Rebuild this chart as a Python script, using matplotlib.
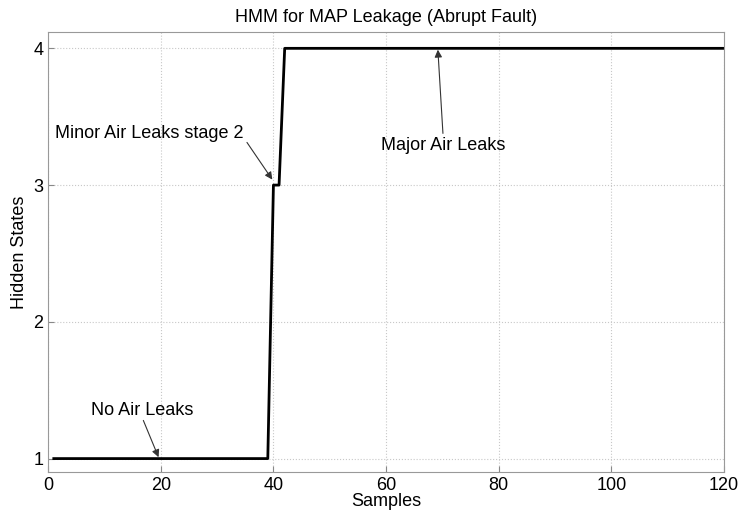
import numpy as np
import matplotlib
matplotlib.use('Agg')
import matplotlib.pyplot as plt

# Hidden state sequence
samples = np.arange(1, 121)
state_no_leak_end = 39     # last sample in state 1
state_minor_end = 41       # last sample in state 3
states = np.where(samples <= state_no_leak_end, 1,
                  np.where(samples <= state_minor_end, 3, 4))

x_ticks = [0, 20, 40, 60, 80, 100, 120]
y_ticks = [1, 2, 3, 4]

# annotation labels: (text, text pos, arrow tail, arrow head)
labels = ['No Air Leaks', 'Minor Air Leaks stage 2', 'Major Air Leaks']
label_pos = [(7.6, 1.352), (1.2, 3.378), (59.1, 3.29)]
arrow_tail = [(16.9, 1.279), (35.3, 3.312), (70.1, 3.378)]
arrow_head = [(19.6, 1.01), (39.8, 3.04), (69.2, 3.99)]

plt.rcParams['font.family'] = ['Liberation Sans', 'DejaVu Sans']

fig = plt.figure(figsize=(7.41, 5.15), dpi=100)
ax = fig.add_axes([0.065, 0.083, 0.912, 0.855])

ax.plot(samples, states, color='k', linewidth=2)

ax.set_xlim(0, 120)
ax.set_ylim(0.9, 4.12)
ax.set_xticks(x_ticks)
ax.set_yticks(y_ticks)
ax.grid(True, linestyle=':', color='#c8c8c8', linewidth=0.8)
ax.tick_params(direction='in', length=4, color='#888888', labelsize=13)
for sp in ax.spines.values():
    sp.set_color('#999999')

ax.set_xlabel('Samples', fontsize=13, labelpad=-1)
ax.set_ylabel('Hidden States', fontsize=13, labelpad=4)
ax.set_title('HMM for MAP Leakage (Abrupt Fault)', fontsize=13, pad=7)

for txt, pos, tail, head in zip(labels, label_pos, arrow_tail, arrow_head):
    ax.text(pos[0], pos[1], txt, fontsize=13, ha='left', va='center')
    ax.annotate('', xy=head, xytext=tail,
                arrowprops=dict(arrowstyle='-|>', color='#333333', lw=0.8,
                                mutation_scale=11, shrinkA=0, shrinkB=0))

fig.savefig('out.png', dpi=100)
